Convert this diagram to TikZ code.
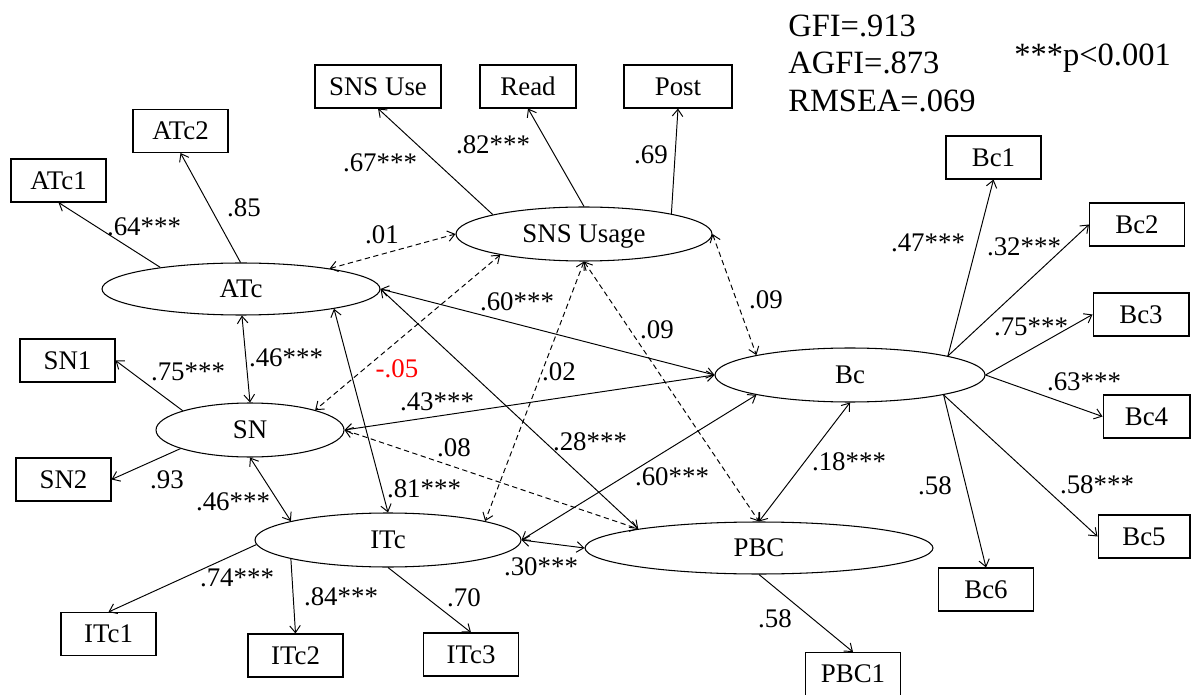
\documentclass[tikz,border=0pt]{standalone}
\usepackage{fontspec}
\setmainfont{Liberation Serif}
\usetikzlibrary{shapes.geometric,arrows.meta}
\definecolor{negred}{RGB}{255,0,0}
\begin{document}
\begin{tikzpicture}[x=0.02cm,y=-0.02cm,
  every node/.style={font=\fontsize{15.3}{18}\selectfont},
  lat/.style={ellipse,draw,line width=0.6pt,inner sep=0pt,text depth=0pt},
  obs/.style={rectangle,draw,line width=0.6pt,inner sep=0pt,minimum width=1.9cm,minimum height=0.86cm},
  lbl/.style={inner sep=0pt},
  stat/.style={inner sep=0pt,anchor=west,font=\fontsize{18.5}{22}\selectfont},
  load/.style={line width=0.55pt,-{Straight Barb[length=4pt,width=6pt]}},
  cov/.style={line width=0.55pt,{Straight Barb[length=4pt,width=6pt]}-{Straight Barb[length=4pt,width=6pt]}},
  dcov/.style={cov,dash pattern=on 3pt off 2pt}]
\useasboundingbox (0,0) rectangle (1192,695);

% latent constructs
\node[lat,minimum width=5.56cm,minimum height=1.04cm] (ATc) at (241,289) {ATc};
\node[lat,minimum width=5.12cm,minimum height=1.08cm] (SNS) at (584,234) {SNS Usage};
\node[lat,minimum width=3.76cm,minimum height=1.08cm] (SN)  at (250,430) {SN};
\node[lat,minimum width=5.32cm,minimum height=1.08cm] (ITc) at (388,540) {ITc};
\node[lat,minimum width=5.40cm,minimum height=1.08cm] (Bc)  at (850,375) {Bc};
\node[lat,minimum width=6.96cm,minimum height=1.04cm] (PBC) at (759,548) {PBC};

% observed indicators
\node[obs] (ATc1) at (58.5,180.5) {ATc1};
\node[obs] (ATc2) at (180.5,131) {ATc2};
\node[obs,minimum width=2.52cm] (SNSuse) at (378,86.5) {SNS Use};
\node[obs,minimum width=1.92cm] (Read) at (528,86.5) {Read};
\node[obs,minimum width=2.16cm] (Post) at (678,86.5) {Post};
\node[obs] (SN1) at (67.5,360.5) {SN1};
\node[obs] (SN2) at (63.5,479.5) {SN2};
\node[obs] (ITc1) at (108.5,634) {ITc1};
\node[obs] (ITc2) at (295.5,655.5) {ITc2};
\node[obs] (ITc3) at (471,654.5) {ITc3};
\node[obs] (Bc1) at (993.5,157.5) {Bc1};
\node[obs] (Bc2) at (1137,224.5) {Bc2};
\node[obs,minimum width=1.92cm] (Bc3) at (1141,314.5) {Bc3};
\node[obs,minimum width=1.74cm] (Bc4) at (1146.5,416.5) {Bc4};
\node[obs,minimum width=1.84cm] (Bc5) at (1144,536.5) {Bc5};
\node[obs] (Bc6) at (986,589.5) {Bc6};
\node[obs] (PBC1) at (853,674) {PBC1};

% factor loadings
\draw[load] (ATc.165) -- (ATc1.south);
\draw[load] (ATc.91) -- (ATc2.south);
\draw[load] (SNS.168) -- (SNSuse.south);
\draw[load] (SNS.north) -- (Read.south);
\draw[load] (SNS.13) -- (Post.south);
\draw[load] (SN.164) -- (SN1.east);
\draw[load] (SN.195) -- (SN2.east);
\draw[load] (ITc.182) -- (ITc1.north);
\draw[load] (ITc.191) -- (ITc2.north);
\draw[load] (ITc.south) -- (ITc3.north);
\draw[load] (Bc.11) -- (Bc1.south);
\draw[load] (Bc.11) -- (Bc2.west);
\draw[load] (Bc.east) -- (Bc3.west);
\draw[load] (Bc.east) -- (Bc4.west);
\draw[load] (Bc.-12) -- (Bc5.west);
\draw[load] (Bc.-12) -- (Bc6.north);
\draw[load] (PBC.south) -- (PBC1.north);

% correlations between constructs
\draw[dcov] (ATc.13) -- (SNS.west);
\draw[cov] (ATc.-88) -- (SN.north);
\draw[cov] (ATc.-12) -- (ITc.north);
\draw[cov] (ATc.east) -- (Bc.west);
\draw[cov] (ATc.east) -- (PBC.171);
\draw[dcov] (SNS.194) -- (SN.17);
\draw[dcov] (SNS.south) -- (ITc.11);
\draw[dcov] (SNS.east) -- (Bc.168);
\draw[dcov] (SNS.south) -- (PBC.north);
\draw[cov] (SN.south) -- (ITc.169);
\draw[cov] (SN.east) -- (Bc.west);
\draw[dcov] (SN.east) -- (PBC.171);
\draw[cov] (ITc.east) -- (Bc.192);
\draw[cov] (ITc.east) -- (PBC.west);
\draw[cov] (Bc.south) -- (PBC.north);

% coefficient labels
\node[lbl] (vATc1) at (144,227) {.64***};
\node[lbl] (vATc2) at (244,208) {.85};
\node[lbl] (vSNSuse) at (380,163) {.67***};
\node[lbl] (vRead) at (493,145) {.82***};
\node[lbl] (vPost) at (651,155) {.69};
\node[lbl] (cATcSNS) at (382,235) {.01};
\node[lbl] (cATcBc) at (517,302) {.60***};
\node[lbl] (cSNSPBC) at (657,330) {.09};
\node[lbl] (cSNSBc) at (766,300) {.09};
\node[lbl] (vBc1) at (928,243) {.47***};
\node[lbl] (vBc2) at (1024,247) {.32***};
\node[lbl] (vBc3) at (1031,327) {.75***};
\node[lbl] (vBc4) at (1084,382) {.63***};
\node[lbl] (vSN1) at (188,372) {.75***};
\node[lbl] (cATcSN) at (286,358) {.46***};
\node[lbl,text=negred] (cSNSSN) at (397,369) {-.05};
\node[lbl] (cSNBc) at (437,402) {.43***};
\node[lbl] (cSNSITc) at (559,372) {.02};
\node[lbl] (cSNPBC) at (454,448) {.08};
\node[lbl] (cATcPBC) at (590,442) {.28***};
\node[lbl] (cITcBc) at (672,477) {.60***};
\node[lbl] (cBcPBC) at (849,462) {.18***};
\node[lbl] (vBc6) at (935,486) {.58};
\node[lbl] (vBc5) at (1097,485) {.58***};
\node[lbl] (vPBC1) at (775,619) {.58};
\node[lbl] (cITcPBC) at (541,567) {.30***};
\node[lbl] (vSN2) at (167,480) {.93};
\node[lbl] (cSNITc) at (233,502) {.46***};
\node[lbl] (cATcITc) at (424,489) {.81***};
\node[lbl] (vITc1) at (237,578) {.74***};
\node[lbl] (vITc2) at (341,597) {.84***};
\node[lbl] (vITc3) at (464,598) {.70};

% fit indices
\node[stat] (gfi) at (788,26) {GFI=.913};
\node[stat] (agfi) at (788,63) {AGFI=.873};
\node[stat] (rmsea) at (788,101) {RMSEA=.069};
\node[stat] (sig) at (1014,58) {***p<0.001};
\end{tikzpicture}
\end{document}
